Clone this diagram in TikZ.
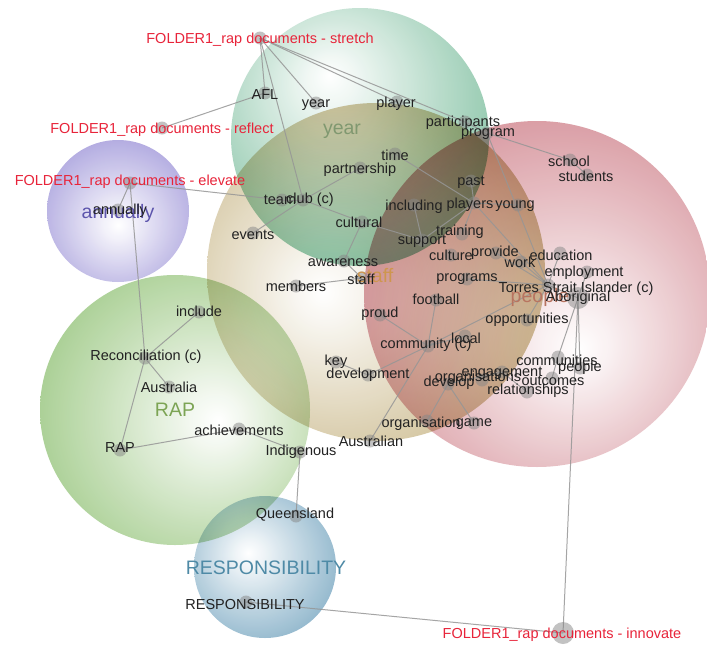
\documentclass[tikz,border=0pt]{standalone}
\usepackage{fontspec}
\setmainfont{Liberation Sans}
\definecolor{yearcol}{RGB}{84,170,128}
\definecolor{staffcol}{RGB}{178,152,84}
\definecolor{peoplecol}{RGB}{196,98,110}
\definecolor{annualcol}{RGB}{126,114,204}
\definecolor{rapcol}{RGB}{120,180,86}
\definecolor{respcol}{RGB}{82,142,176}
\definecolor{linkgray}{RGB}{150,150,150}
\definecolor{dotgray}{RGB}{135,135,135}
\definecolor{conceptgray}{RGB}{34,34,34}
\definecolor{folderred}{RGB}{232,36,58}
\definecolor{yearlab}{RGB}{128,152,112}
\definecolor{stafflab}{RGB}{206,150,78}
\definecolor{peoplelab}{RGB}{184,116,96}
\definecolor{annuallab}{RGB}{92,84,172}
\definecolor{raplab}{RGB}{124,164,84}
\definecolor{resplab}{RGB}{78,138,166}
% radial fills: pale highlight, full colour towards the rim
\newcommand\themeshading[3]{\pgfdeclareradialshading{#1}{#3}{color(0bp)=(white); color(5bp)=(white!90!#2); color(20bp)=(white!55!#2); color(36bp)=(white!20!#2); color(50bp)=(#2); color(71bp)=(#2)}}
\themeshading{yearshade}{yearcol}{\pgfpoint{-6bp}{12bp}}
\themeshading{staffshade}{staffcol}{\pgfpoint{-8bp}{-3bp}}
\themeshading{peopleshade}{peoplecol}{\pgfpoint{6bp}{-8bp}}
\themeshading{annualshade}{annualcol}{\pgfpoint{0bp}{-5bp}}
\themeshading{rapshade}{rapcol}{\pgfpoint{8bp}{-2bp}}
\themeshading{respshade}{respcol}{\pgfpoint{-6bp}{5bp}}
\begin{document}
\begin{tikzpicture}[x=1pt,y=-1pt,
  theme/.style={opacity=0.92, blend mode=multiply},
  link/.style={draw=linkgray, line width=1pt, draw opacity=0.85},
  dot/.style={circle, fill=dotgray, fill opacity=0.5, inner sep=0pt, minimum size=13pt},
  bigdot/.style={dot, minimum size=22pt},
  concept/.style={text=conceptgray, font=\fontsize{14.5}{16}\selectfont, inner sep=0pt},
  folder/.style={text=folderred, font=\fontsize{14.5}{16}\selectfont, inner sep=0pt},
  themelabel/.style={font=\fontsize{19.5}{22}\selectfont, inner sep=0pt}]
\fill[white] (0,0) rectangle (707,648);
\useasboundingbox (0,0) rectangle (707,648);

% theme circles
\shade[theme, shading=peopleshade] (537,294) circle[radius=173];
\shade[theme, shading=staffshade] (376,272) circle[radius=169];
\shade[theme, shading=yearshade] (360,137) circle[radius=129];
\shade[theme, shading=annualshade] (118,211) circle[radius=71];
\shade[theme, shading=rapshade] (175,410) circle[radius=135];
\shade[theme, shading=respshade] (265,567) circle[radius=71];

% concept positions
\coordinate (stretch) at (260,38);
\coordinate (reflect) at (162,128);
\coordinate (elevate) at (130,183);
\coordinate (innovate) at (563,633);
\coordinate (afl) at (265,93);
\coordinate (yearc) at (316,103);
\coordinate (player) at (397,102);
\coordinate (participants) at (465,122);
\coordinate (program) at (487,133);
\coordinate (time) at (395,154);
\coordinate (partnership) at (360,168);
\coordinate (school) at (570,160);
\coordinate (students) at (587,175);
\coordinate (past) at (471,181);
\coordinate (players) at (474,203);
\coordinate (young) at (518,205);
\coordinate (including) at (414,205);
\coordinate (team) at (282,200);
\coordinate (club) at (303,200);
\coordinate (cultural) at (362,222);
\coordinate (events) at (253,233);
\coordinate (support) at (422,240);
\coordinate (training) at (462,234);
\coordinate (culture) at (451,255);
\coordinate (provide) at (496,253);
\coordinate (work) at (521,262);
\coordinate (education) at (560,253);
\coordinate (awareness) at (344,261);
\coordinate (staffc) at (362,278);
\coordinate (members) at (296,286);
\coordinate (programs) at (467,279);
\coordinate (employment) at (587,272);
\coordinate (torres) at (548,285);
\coordinate (aboriginal) at (578,298);
\coordinate (football) at (436,300);
\coordinate (proud) at (380,315);
\coordinate (opportunities) at (527,320);
\coordinate (community) at (428,346);
\coordinate (local) at (465,336);
\coordinate (key) at (336,362);
\coordinate (development) at (368,375);
\coordinate (develop) at (448,384);
\coordinate (organisations) at (482,380);
\coordinate (engagement) at (502,372);
\coordinate (communities) at (558,357);
\coordinate (peoplec) at (580,368);
\coordinate (outcomes) at (552,378);
\coordinate (relationships) at (527,392);
\coordinate (organisation) at (427,421);
\coordinate (game) at (474,423);
\coordinate (australian) at (370,441);
\coordinate (indigenous) at (300,452);
\coordinate (achievements) at (239,429);
\coordinate (rapc) at (120,450);
\coordinate (australia) at (169,387);
\coordinate (reconciliation) at (145,358);
\coordinate (include) at (199,312);
\coordinate (annuallyc) at (118,210);
\coordinate (queensland) at (296,516);
\coordinate (responsibility) at (246,602);

% connectors
\foreach \a/\b in {stretch/afl, stretch/club, stretch/yearc, stretch/player, stretch/participants,
  reflect/afl, elevate/team, elevate/annuallyc, elevate/reconciliation,
  club/team, club/events, club/partnership, club/cultural,
  cultural/awareness, cultural/support, awareness/staffc, staffc/members,
  time/players, past/players, players/training, players/support, players/torres, players/young,
  including/support, program/torres, program/school, school/students, participants/program,
  programs/torres, provide/torres, work/torres, education/torres, employment/aboriginal,
  torres/aboriginal, opportunities/torres, community/torres, football/community, proud/community,
  community/development, key/development, community/australian, community/local,
  develop/organisation, develop/game, develop/engagement, engagement/relationships,
  communities/aboriginal, outcomes/communities, peoplec/aboriginal,
  aboriginal/innovate, responsibility/innovate,
  indigenous/queensland, achievements/indigenous, rapc/achievements,
  reconciliation/rapc, reconciliation/include, reconciliation/australia}
  \draw[link] (\a) -- (\b);

% concept markers
\foreach \n in {stretch, reflect, elevate, afl, yearc, player, participants, program, time,
  partnership, school, students, past, players, young, including, team, club, cultural, events,
  support, training, culture, provide, work, education, awareness, staffc, members, programs,
  employment, torres, football, proud, opportunities, community, local, key, development,
  develop, organisations, engagement, communities, peoplec, outcomes, relationships,
  organisation, game, australian, indigenous, achievements, rapc, australia, reconciliation,
  include, annuallyc, queensland, responsibility}
  \node[dot] (d-\n) at (\n) {};
\node[bigdot] (d-aboriginal) at (aboriginal) {};
\node[bigdot] (d-innovate) at (innovate) {};

% theme names
\node[themelabel, text=yearlab] (t-year) at (342,131) {year};
\node[themelabel, text=stafflab] (t-staff) at (375,276) {staff};
\node[themelabel, text=peoplelab] (t-people) at (540,297) {people};
\node[themelabel, text=annuallab] (t-annually) at (118,213) {annually};
\node[themelabel, text=raplab] (t-rap) at (175,410) {RAP};
\node[themelabel, text=resplab] (t-resp) at (266,568) {RESPONSIBILITY};

% document folders
\node[folder] (l-stretch) at (260,40) {FOLDER1\_rap documents - stretch};
\node[folder] (l-reflect) at (162,130) {FOLDER1\_rap documents - reflect};
\node[folder] (l-elevate) at (130,182) {FOLDER1\_rap documents - elevate};
\node[folder] (l-innovate) at (562,635) {FOLDER1\_rap documents - innovate};

% concept names
\node[concept] (l-afl) at (265,95) {AFL};
\node[concept] (l-yearc) at (316,105) {year};
\node[concept] (l-player) at (396,104) {player};
\node[concept] (l-participants) at (463,123) {participants};
\node[concept] (l-program) at (488,134) {program};
\node[concept] (l-time) at (395,155) {time};
\node[concept] (l-partnership) at (360,170) {partnership};
\node[concept] (l-school) at (569,161) {school};
\node[concept] (l-students) at (586,176) {students};
\node[concept] (l-past) at (471,182) {past};
\node[concept] (l-players) at (470,205) {players};
\node[concept] (l-young) at (515,206) {young};
\node[concept] (l-including) at (414,207) {including};
\node[concept] (l-team) at (280,200) {team};
\node[concept] (l-club) at (310,200) {club (c)};
\node[concept] (l-cultural) at (359,222) {cultural};
\node[concept] (l-events) at (253,235) {events};
\node[concept] (l-support) at (422,241) {support};
\node[concept] (l-training) at (460,232) {training};
\node[concept] (l-culture) at (451,255) {culture};
\node[concept] (l-provide) at (495,253) {provide};
\node[concept] (l-work) at (520,262) {work};
\node[concept] (l-education) at (561,255) {education};
\node[concept] (l-awareness) at (343,263) {awareness};
\node[concept] (l-staffc) at (361,279) {staff};
\node[concept] (l-members) at (296,286) {members};
\node[concept] (l-programs) at (467,279) {programs};
\node[concept] (l-employment) at (584,273) {employment};
\node[concept] (l-torres) at (576,289) {Torres Strait Islander (c)};
\node[concept] (l-aboriginal) at (578,298) {Aboriginal};
\node[concept] (l-football) at (436,299) {football};
\node[concept] (l-proud) at (380,314) {proud};
\node[concept] (l-opportunities) at (527,320) {opportunities};
\node[concept] (l-community) at (426,345) {community (c)};
\node[concept] (l-local) at (466,338) {local};
\node[concept] (l-key) at (336,362) {key};
\node[concept] (l-development) at (368,375) {development};
\node[concept] (l-develop) at (449,383) {develop};
\node[concept] (l-organisations) at (478,378) {organisations};
\node[concept] (l-engagement) at (502,373) {engagement};
\node[concept] (l-communities) at (557,360) {communities};
\node[concept] (l-peoplec) at (580,368) {people};
\node[concept] (l-outcomes) at (553,381) {outcomes};
\node[concept] (l-relationships) at (528,391) {relationships};
\node[concept] (l-organisation) at (421,424) {organisation};
\node[concept] (l-game) at (474,424) {game};
\node[concept] (l-australian) at (371,441) {Australian};
\node[concept] (l-indigenous) at (301,452) {Indigenous};
\node[concept] (l-achievements) at (239,430) {achievements};
\node[concept] (l-rapc) at (120,448) {RAP};
\node[concept] (l-australia) at (169,387) {Australia};
\node[concept] (l-reconciliation) at (146,357) {Reconciliation (c)};
\node[concept] (l-include) at (199,311) {include};
\node[concept] (l-annuallyc) at (120,211) {annually};
\node[concept] (l-queensland) at (295,515) {Queensland};
\node[concept] (l-responsibility) at (245,605) {RESPONSIBILITY};
\end{tikzpicture}
\end{document}
